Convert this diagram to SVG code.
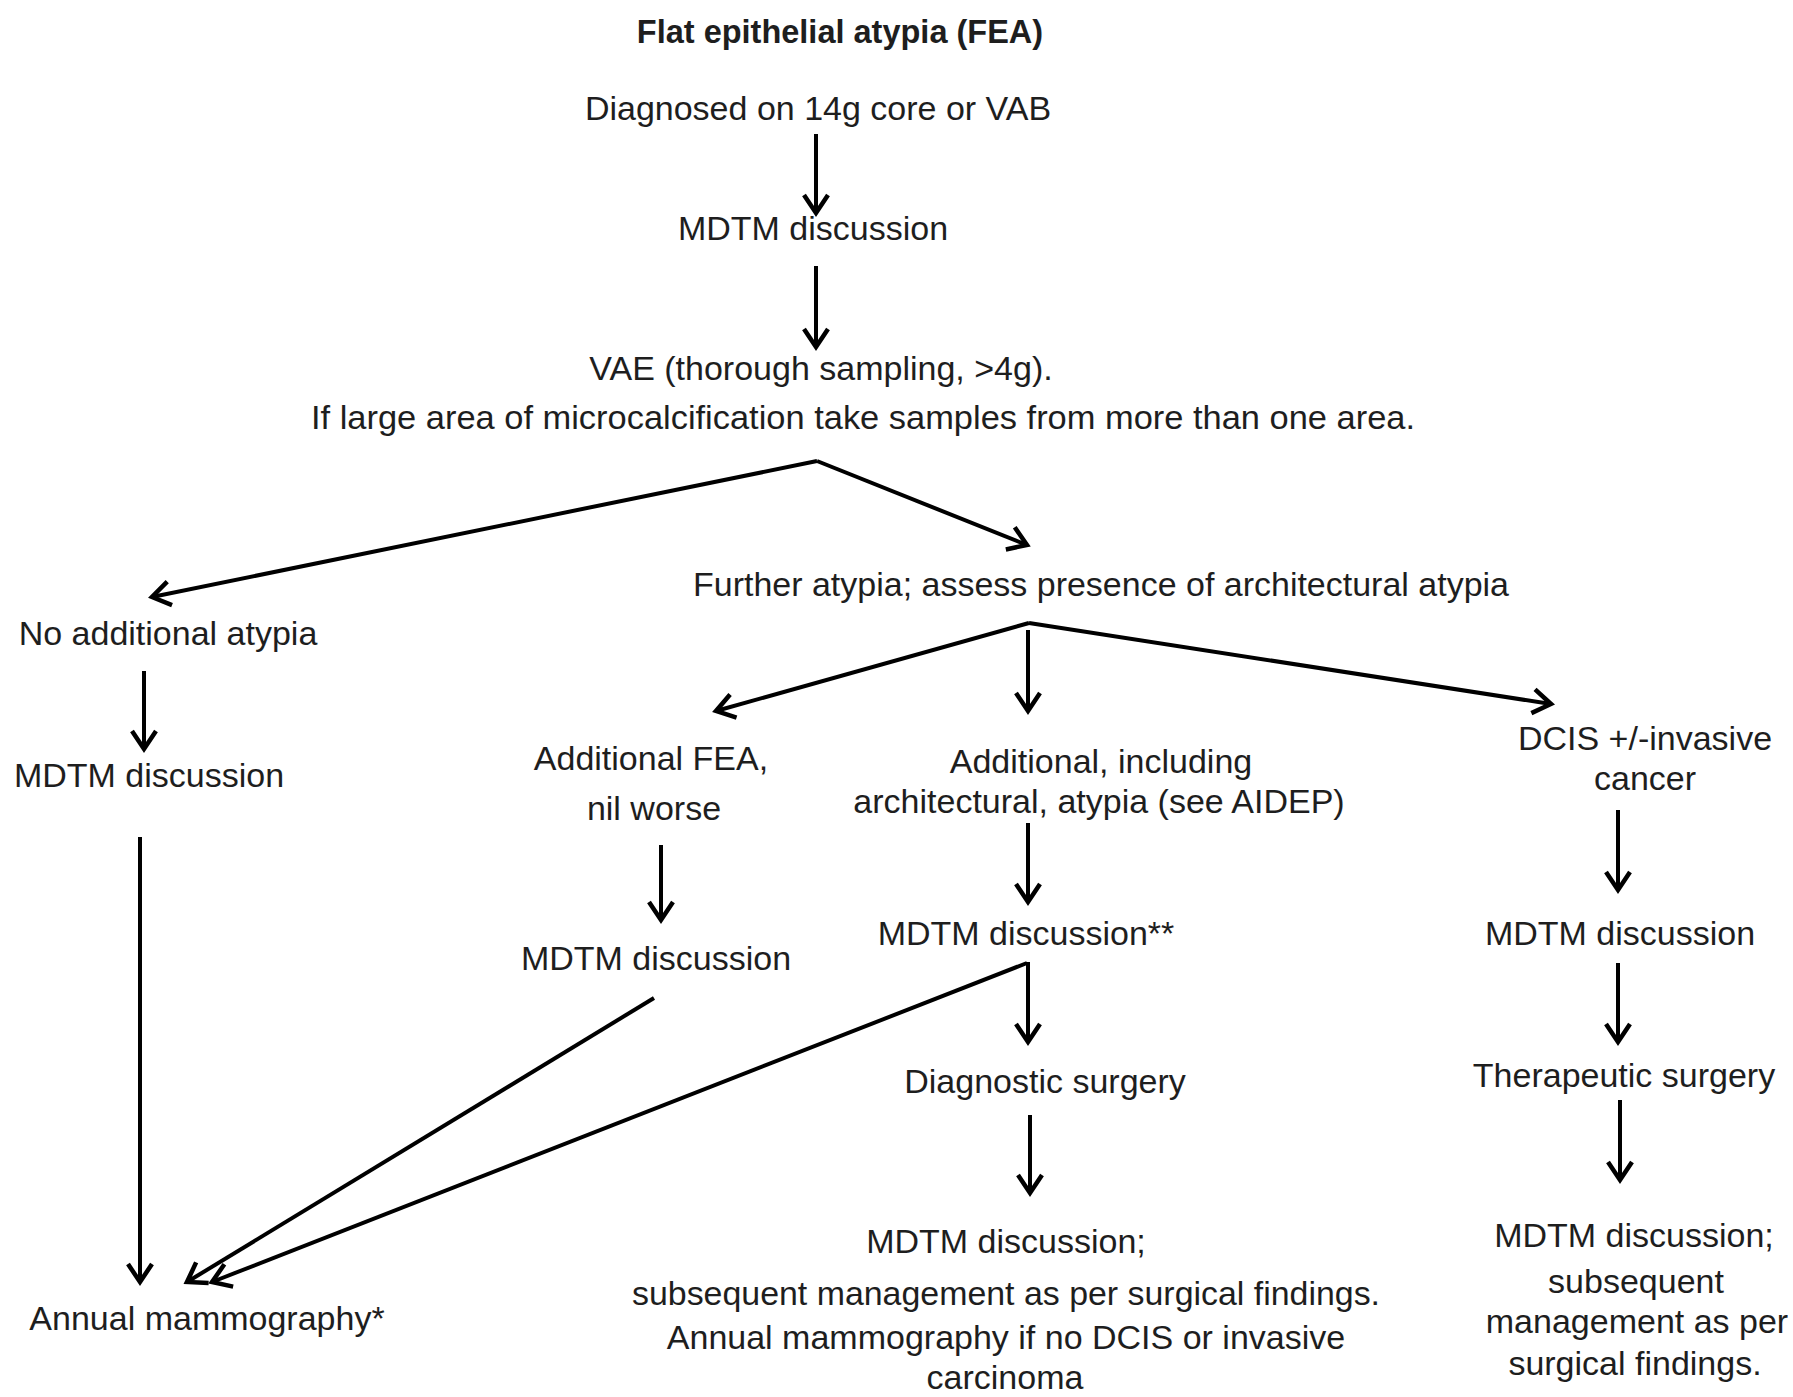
<svg xmlns="http://www.w3.org/2000/svg" width="1793" height="1397" viewBox="0 0 1793 1397">
<defs>
<style>
text{font-family:"Liberation Sans",Arial,sans-serif;font-size:34px;fill:#1e1e1e;text-anchor:middle}
.title{font-weight:bold;font-size:32.5px}
.c{fill:none;stroke:#000;stroke-width:4;marker-end:url(#ah)}
</style>
<marker id="ah" markerUnits="userSpaceOnUse" markerWidth="30" markerHeight="30" viewBox="0 0 30 30" refX="25" refY="15" orient="auto">
<path d="M7,3 L25,15 L7,27" fill="none" stroke="#000" stroke-width="4.5"/>
</marker>
</defs>
<rect width="1793" height="1397" fill="#fff"/>
<g id="connectors">
<line class="c" x1="816" y1="134" x2="816" y2="213"/>
<line class="c" x1="816" y1="266" x2="816" y2="347"/>
<polyline class="c" points="817,461 152,597"/>
<polyline class="c" points="817,461 1027,545"/>
<line class="c" x1="144" y1="671" x2="144" y2="749"/>
<line class="c" x1="140" y1="837" x2="140" y2="1282"/>
<line class="c" x1="1029" y1="623" x2="716" y2="711"/>
<line class="c" x1="1028" y1="630" x2="1028" y2="711"/>
<line class="c" x1="1029" y1="623" x2="1551" y2="704"/>
<line class="c" x1="661" y1="845" x2="661" y2="920"/>
<line class="c" x1="1028" y1="823" x2="1028" y2="902"/>
<line class="c" x1="1618" y1="810" x2="1618" y2="890"/>
<line class="c" x1="1618" y1="963" x2="1618" y2="1042"/>
<line class="c" x1="1620" y1="1100" x2="1620" y2="1180"/>
<polyline class="c" points="1028,962 1028,1042"/>
<line class="c" x1="1030" y1="1115" x2="1030" y2="1193"/>
<line class="c" x1="654" y1="998" x2="187" y2="1282"/>
<line class="c" x1="1027" y1="963" x2="212" y2="1282"/>
</g>
<g id="title"><text class="title" x="840" y="43">Flat epithelial atypia (FEA)</text></g>
<g id="n-diagnosed"><text x="818" y="120">Diagnosed on 14g core or VAB</text></g>
<g id="n-mdtm1"><text x="813" y="240">MDTM discussion</text></g>
<g id="n-vae"><text x="821" y="380">VAE (thorough sampling, &gt;4g).</text><text x="863" y="429" textLength="1104" lengthAdjust="spacingAndGlyphs">If large area of microcalcification take samples from more than one area.</text></g>
<g id="n-noadd"><text x="168" y="645">No additional atypia</text></g>
<g id="n-further"><text x="1101" y="596" textLength="816" lengthAdjust="spacingAndGlyphs">Further atypia; assess presence of architectural atypia</text></g>
<g id="n-mdtm-left"><text x="149" y="787">MDTM discussion</text></g>
<g id="n-annual"><text x="207" y="1330">Annual mammography*</text></g>
<g id="n-addfea"><text x="651" y="770">Additional FEA,</text><text x="654" y="820">nil worse</text></g>
<g id="n-mdtm-fea"><text x="656" y="970">MDTM discussion</text></g>
<g id="n-addarch"><text x="1101" y="773">Additional, including</text><text x="1099" y="813">architectural, atypia (see AIDEP)</text></g>
<g id="n-mdtm-arch"><text x="1026" y="945">MDTM discussion**</text></g>
<g id="n-diagsurg"><text x="1045" y="1093">Diagnostic surgery</text></g>
<g id="n-mdtm-diag"><text x="1006" y="1253">MDTM discussion;</text><text x="1006" y="1305" textLength="748" lengthAdjust="spacingAndGlyphs">subsequent management as per surgical findings.</text><text x="1006" y="1349">Annual mammography if no DCIS or invasive</text><text x="1005" y="1389">carcinoma</text></g>
<g id="n-dcis"><text x="1645" y="750">DCIS +/-invasive</text><text x="1645" y="790">cancer</text></g>
<g id="n-mdtm-dcis"><text x="1620" y="945">MDTM discussion</text></g>
<g id="n-thersurg"><text x="1624" y="1087">Therapeutic surgery</text></g>
<g id="n-mdtm-ther"><text x="1634" y="1247">MDTM discussion;</text><text x="1636" y="1293">subsequent</text><text x="1637" y="1333">management as per</text><text x="1635" y="1375">surgical findings.</text></g>
</svg>
